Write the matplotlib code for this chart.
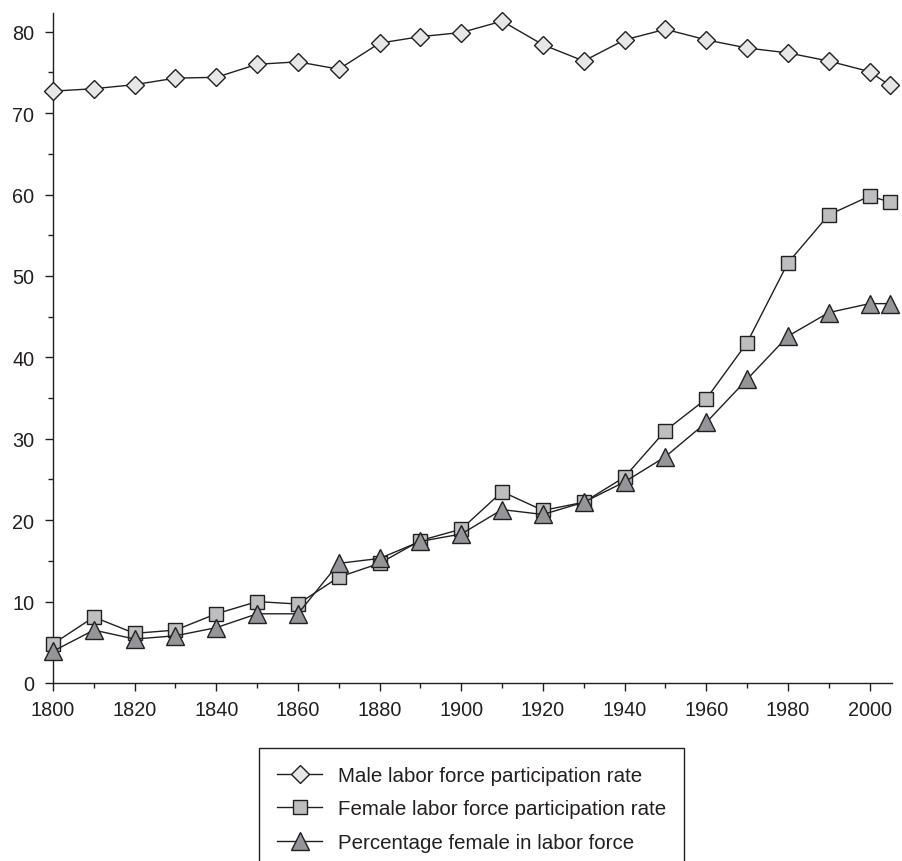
import numpy as np
import matplotlib
matplotlib.use("Agg")
import matplotlib.pyplot as plt
from matplotlib.ticker import MultipleLocator

plt.rcParams["font.family"] = ["Liberation Sans", "DejaVu Sans"]

years = [1800, 1810, 1820, 1830, 1840, 1850, 1860, 1870, 1880, 1890, 1900,
         1910, 1920, 1930, 1940, 1950, 1960, 1970, 1980, 1990, 2000, 2005]

male_rate = [72.7, 73.0, 73.5, 74.3, 74.4, 76.0, 76.3, 75.4, 78.6, 79.4, 79.9,
             81.3, 78.4, 76.4, 79.0, 80.3, 79.0, 78.0, 77.4, 76.4, 75.1, 73.4]

female_rate = [4.8, 8.1, 6.1, 6.5, 8.5, 10.0, 9.7, 13.0, 14.7, 17.5, 18.9,
               23.5, 21.2, 22.2, 25.3, 31.0, 34.9, 41.8, 51.6, 57.5, 59.8, 59.1]

female_share = [3.9, 6.5, 5.4, 5.8, 6.8, 8.5, 8.5, 14.7, 15.3, 17.4, 18.3,
                21.3, 20.7, 22.2, 24.7, 27.8, 32.0, 37.3, 42.6, 45.5, 46.6, 46.6]

labels = ["Male labor force participation rate",
          "Female labor force participation rate",
          "Percentage female in labor force"]

edge = "#231f20"

fig = plt.figure(figsize=(9.03, 8.62), dpi=100)
ax = fig.add_axes([53 / 903, 178 / 862, (892 - 53) / 903, (684 - 14) / 862])

h1, = ax.plot(years, male_rate, "-", color=edge, lw=1.0, marker="D", ms=9.5,
              mfc="#e6e7e8", mec=edge, mew=1.0, clip_on=False, zorder=3)
h2, = ax.plot(years, female_rate, "-", color=edge, lw=1.0, marker="s", ms=10,
              mfc="#bcbec0", mec=edge, mew=1.0, clip_on=False, zorder=3)
h3, = ax.plot(years, female_share, "-", color=edge, lw=1.0, marker="^", ms=12.5,
              mfc="#939598", mec=edge, mew=1.0, clip_on=False, zorder=4)

ax.set_xlim(1800, 2005.5)
ax.set_ylim(0, 82.3)
ax.xaxis.set_major_locator(MultipleLocator(20))
ax.xaxis.set_minor_locator(MultipleLocator(10))
ax.yaxis.set_major_locator(MultipleLocator(10))
ax.yaxis.set_minor_locator(MultipleLocator(5))
ax.tick_params(which="both", direction="out", color=edge, width=1.0,
               labelsize=14.3, labelcolor="#231f20")
ax.tick_params(which="major", length=5.5)
ax.tick_params(which="minor", length=3.5)
ax.tick_params(axis="x", pad=7)
ax.tick_params(axis="y", pad=8)

for s in ["top", "right"]:
    ax.spines[s].set_visible(False)
for s in ["left", "bottom"]:
    ax.spines[s].set_color(edge)
    ax.spines[s].set_linewidth(1.0)

leg = fig.legend([h1, h2, h3], labels, loc="upper left",
                 bbox_to_anchor=(259 / 903, 1 - 749 / 862),
                 fontsize=14.8, numpoints=1, handlelength=2.2,
                 handletextpad=0.75, labelspacing=0.7, borderpad=0.88,
                 borderaxespad=0, fancybox=False, framealpha=1)
leg.get_frame().set_edgecolor(edge)
leg.get_frame().set_linewidth(1.0)
for t in leg.get_texts():
    t.set_color("#231f20")

fig.savefig("out.png", dpi=100)
